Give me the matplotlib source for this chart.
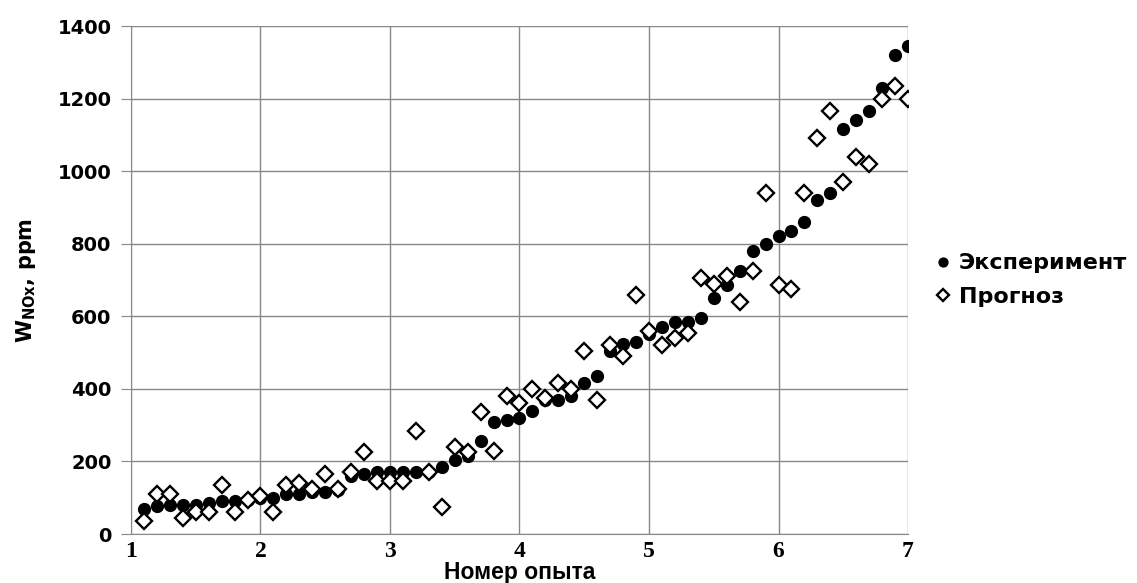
import matplotlib
matplotlib.use("Agg")
import matplotlib.pyplot as plt

# номер опыта
x = [1.1, 1.2, 1.3, 1.4, 1.5, 1.6, 1.7, 1.8, 1.9, 2.0,
     2.1, 2.2, 2.3, 2.4, 2.5, 2.6, 2.7, 2.8, 2.9, 3.0,
     3.1, 3.2, 3.3, 3.4, 3.5, 3.6, 3.7, 3.8, 3.9, 4.0,
     4.1, 4.2, 4.3, 4.4, 4.5, 4.6, 4.7, 4.8, 4.9, 5.0,
     5.1, 5.2, 5.3, 5.4, 5.5, 5.6, 5.7, 5.8, 5.9, 6.0,
     6.1, 6.2, 6.3, 6.4, 6.5, 6.6, 6.7, 6.8, 6.9, 7.0]

# эксперимент, ppm
exper = [70, 76, 80, 80, 80, 85, 90, 90, 95, 100,
         100, 110, 110, 115, 115, 120, 160, 165, 170, 170,
         170, 170, 170, 185, 205, 215, 255, 310, 315, 320,
         340, 370, 370, 380, 415, 435, 505, 525, 530, 550,
         570, 585, 585, 595, 650, 685, 725, 780, 800, 820,
         835, 860, 920, 940, 1115, 1140, 1165, 1230, 1320, 1345]

# прогноз, ppm
progn = [35, 110, 110, 45, 60, 60, 135, 60, 95, 105,
         60, 135, 140, 125, 165, 125, 170, 225, 145, 145,
         145, 285, 170, 75, 240, 225, 335, 230, 380, 360,
         400, 375, 415, 400, 505, 370, 520, 490, 660, 560,
         520, 540, 555, 705, 690, 710, 640, 725, 940, 685,
         675, 940, 1090, 1165, 970, 1040, 1020, 1200, 1235, 1200]

plt.rcParams['font.family'] = ['DejaVu Sans']

fig = plt.figure(figsize=(11.37, 5.83), dpi=100)
ax = fig.add_axes([0.1152, 0.084, 0.6834, 0.8714])

ax.plot(x, exper, 'o', color='black', markersize=8.5, label='Эксперимент', zorder=3)
ax.plot(x, progn, 'D', markerfacecolor='white', markeredgecolor='black',
        markeredgewidth=1.7, markersize=8, label='Прогноз', zorder=4)

ax.set_xlim(1, 7)
ax.set_ylim(0, 1400)
ax.set_xticks([1, 2, 3, 4, 5, 6, 7])
ax.set_yticks(range(0, 1401, 200))
ax.grid(True, color='#888888', linewidth=1)
ax.set_axisbelow(True)
for s in ['top', 'right']:
    ax.spines[s].set_visible(False)
for s in ['left', 'bottom']:
    ax.spines[s].set_color('#888888')

ax.tick_params(axis='y', length=7, color='#888888', labelsize=14, pad=7)
ax.tick_params(axis='x', length=0, labelsize=17, pad=5)
for lb in ax.get_yticklabels():
    lb.set_fontweight('bold')
for lb in ax.get_xticklabels():
    lb.set_family('Liberation Serif')
    lb.set_fontweight('bold')

ax.set_ylabel(r'W$_{\mathregular{NOx}}$, ppm', fontsize=15, fontweight='bold', labelpad=14)
ax.set_xlabel('Номер опыта', fontsize=16.5, fontweight='bold',
              family=['Liberation Sans Narrow', 'Liberation Sans'], labelpad=-1)

ax.legend(loc='center left', bbox_to_anchor=(1.005, 0.5), frameon=False,
          prop={'size': 16, 'weight': 'bold'}, handletextpad=0.2,
          handlelength=1.0, labelspacing=0.6, markerscale=0.75)

fig.savefig('out.png', dpi=100)
